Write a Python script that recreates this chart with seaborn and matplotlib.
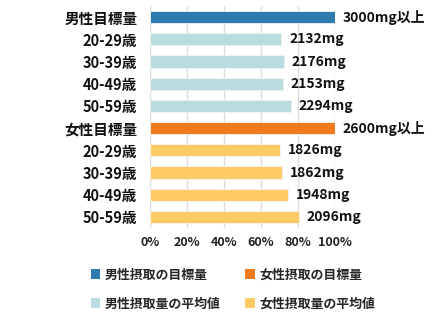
import matplotlib
matplotlib.use("Agg")
import matplotlib.pyplot as plt
import seaborn as sns
import pandas as pd
from matplotlib.patches import Patch

categories = ["男性目標量", "20-29歳", "30-39歳", "40-49歳", "50-59歳",
              "女性目標量", "20-29歳", "30-39歳", "40-49歳", "50-59歳"]
values_mg = [3000, 2132, 2176, 2153, 2294, 2600, 1826, 1862, 1948, 2096]
targets_mg = [3000, 3000, 3000, 3000, 3000, 2600, 2600, 2600, 2600, 2600]
value_labels = ["3000mg以上", "2132mg", "2176mg", "2153mg", "2294mg",
                "2600mg以上", "1826mg", "1862mg", "1948mg", "2096mg"]
groups = ["男性摂取の目標量", "男性摂取量の平均値", "男性摂取量の平均値", "男性摂取量の平均値", "男性摂取量の平均値",
          "女性摂取の目標量", "女性摂取量の平均値", "女性摂取量の平均値", "女性摂取量の平均値", "女性摂取量の平均値"]
legend_order = ["男性摂取の目標量", "男性摂取量の平均値", "女性摂取の目標量", "女性摂取量の平均値"]
colors = {"男性摂取の目標量": "#2E7BAF", "男性摂取量の平均値": "#B9DCE0",
          "女性摂取の目標量": "#F07A1C", "女性摂取量の平均値": "#FFCB66"}
xticks = [0, 20, 40, 60, 80, 100]

sns.set_theme(style="white")
plt.rcParams['font.family'] = ['Noto Sans CJK JP', 'DejaVu Sans']

df = pd.DataFrame({
    "key": [f"{i}" for i in range(len(categories))],
    "pct": [v / t * 100 for v, t in zip(values_mg, targets_mg)],
    "group": groups,
})

fig = plt.figure(figsize=(4.36, 3.22), dpi=100)
ax = fig.add_axes([0.344, 0.292, 0.424, 0.689])
sns.barplot(data=df, x="pct", y="key", hue="group", palette=colors,
            dodge=False, width=0.55, ax=ax, legend=False, saturation=1,
            edgecolor="#F4F4F4", linewidth=0.6, hue_order=legend_order)

ax.set_xlim(0, 100)
ax.set_ylim(9.5, -0.5)
ax.set_xticks(xticks)
ax.set_xticklabels([f"{t}%" for t in xticks], fontsize=9, fontweight="bold", color="#222222")
ax.set_yticks(range(len(categories)))
ax.set_yticklabels(categories, fontsize=10.5, fontweight="bold", color="#111111")
ax.set_xlabel("")
ax.set_ylabel("")
ax.tick_params(axis="y", length=0, pad=9)
ax.tick_params(axis="x", length=0, pad=6)
for s in ax.spines.values():
    s.set_visible(False)
ax.grid(axis="x", color="#DDDDDD", linewidth=1)
ax.set_axisbelow(True)

for i, (p, lab) in enumerate(zip(df["pct"], value_labels)):
    ax.annotate(lab, (p, i), xytext=(5.5, 0), textcoords="offset points",
                va="center", ha="left", fontsize=10, fontweight="bold", color="#111111",
                annotation_clip=False)

handles = [Patch(facecolor=colors[g], edgecolor="none", label=g) for g in legend_order]
fig.legend(handles=handles, ncol=2, loc="upper left", bbox_to_anchor=(0.181, 0.205),
           frameon=False, prop={"weight": "bold", "size": 9.3},
           handlelength=0.75, handleheight=0.75, handletextpad=0.35,
           columnspacing=1.9, labelspacing=1.15)

fig.savefig("out.png", dpi=100)
